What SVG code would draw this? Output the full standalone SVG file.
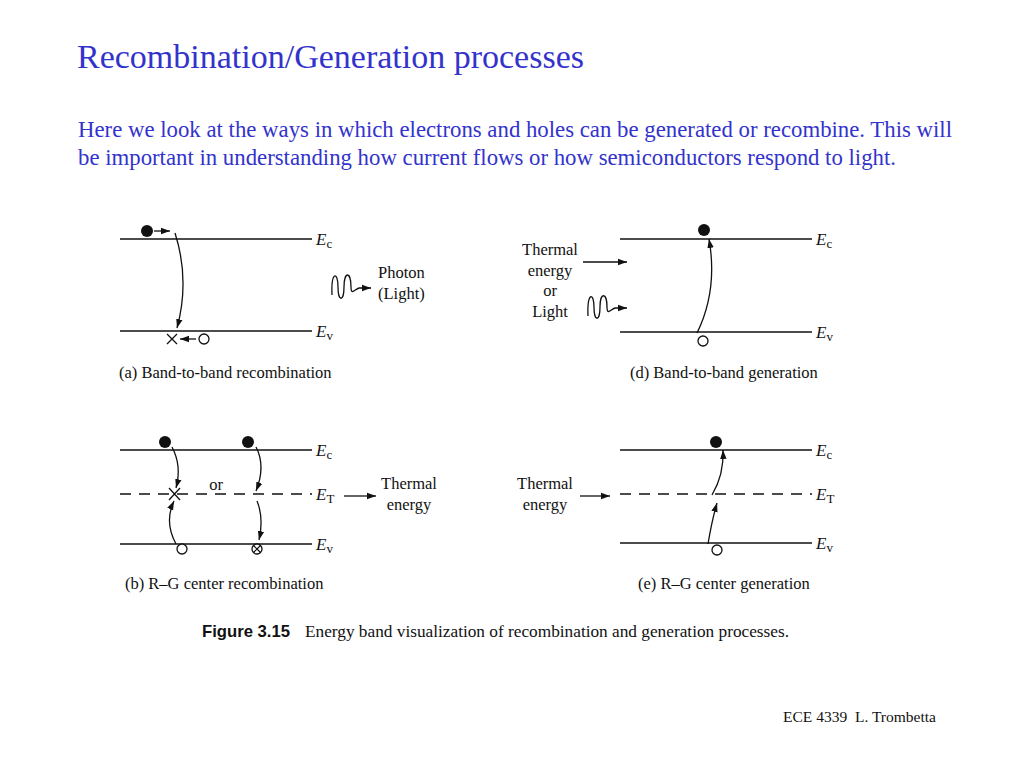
<svg xmlns="http://www.w3.org/2000/svg" width="1024" height="768" viewBox="0 0 1024 768">
<defs>
<marker id="ah" markerWidth="10" markerHeight="8" refX="9" refY="4" orient="auto" markerUnits="userSpaceOnUse">
<path d="M0,0.8 L9,4 L0,7.2 Z" fill="#111"/>
</marker>
<style>
.blue{fill:#3333cc;font-family:"Liberation Serif","Times New Roman",serif}
.t{fill:#111;font-family:"Liberation Serif","Times New Roman",serif;font-size:16.5px}
.lbl{fill:#111;font-family:"Liberation Serif","Times New Roman",serif;font-size:17px}
.it{font-style:italic}
.band{stroke:#111;stroke-width:1.3;fill:none}
.dash{stroke:#111;stroke-width:1.3;fill:none;stroke-dasharray:11,8}
.arr{stroke:#111;stroke-width:1.3;fill:none;marker-end:url(#ah)}
.e{fill:#111}
.h{fill:#fff;stroke:#111;stroke-width:1.3}
</style>
</defs>
<rect width="1024" height="768" fill="#fff"/>
<text class="blue" x="77" y="68" font-size="34" textLength="507" lengthAdjust="spacingAndGlyphs">Recombination/Generation processes</text>
<text class="blue" x="78" y="137" font-size="22.5" textLength="874" lengthAdjust="spacingAndGlyphs">Here we look at the ways in which electrons and holes can be generated or recombine. This will</text>
<text class="blue" x="78" y="165" font-size="22.5" textLength="818" lengthAdjust="spacingAndGlyphs">be important in understanding how current flows or how semiconductors respond to light.</text>

<g id="panel-a">
<line class="band" x1="120" y1="239" x2="312" y2="239"/>
<line class="band" x1="120" y1="331" x2="312" y2="331"/>
<text class="lbl" x="316" y="245"><tspan class="it">E</tspan><tspan font-size="13" dy="3">c</tspan></text>
<text class="lbl" x="316" y="337"><tspan class="it">E</tspan><tspan font-size="13" dy="3">v</tspan></text>
<circle class="e" cx="147" cy="231" r="6"/>
<line class="arr" x1="154" y1="231" x2="170" y2="231"/>
<path class="arr" d="M175,233 Q190,280 177,328"/>
<path d="M167,334 L177,344 M177,334 L167,344" stroke="#111" stroke-width="1.3"/>
<line class="arr" x1="196" y1="339" x2="180" y2="339"/>
<circle class="h" cx="204" cy="339" r="5"/>
<path class="arr" d="M332,295 C331,271 338,271 338,287 C338,302 344,302 344,287 C344,271 351,271 351,287 C351,296 355,289 359,288 L371,288"/>
<text class="t" x="378" y="278">Photon</text>
<text class="t" x="378" y="299">(Light)</text>
<text class="t" x="119" y="378">(a) Band-to-band recombination</text>
</g>

<g id="panel-d">
<line class="band" x1="620" y1="239" x2="812" y2="239"/>
<line class="band" x1="620" y1="332" x2="812" y2="332"/>
<text class="lbl" x="816" y="245"><tspan class="it">E</tspan><tspan font-size="13" dy="3">c</tspan></text>
<text class="lbl" x="816" y="338"><tspan class="it">E</tspan><tspan font-size="13" dy="3">v</tspan></text>
<circle class="e" cx="704" cy="230" r="6"/>
<path class="arr" d="M697,333 Q718,290 709,239"/>
<circle class="h" cx="703" cy="341" r="5"/>
<text class="t" x="550" y="255" text-anchor="middle">Thermal</text>
<text class="t" x="550" y="276" text-anchor="middle">energy</text>
<text class="t" x="550" y="296" text-anchor="middle">or</text>
<text class="t" x="550" y="317" text-anchor="middle">Light</text>
<line class="arr" x1="583" y1="262" x2="627" y2="262"/>
<path class="arr" d="M588,316 C587,292 594,292 594,307 C594,322 600,322 600,307 C600,292 607,292 607,307 C607,316 611,309 615,308 L627,308"/>
<text class="t" x="630" y="378">(d) Band-to-band generation</text>
</g>

<g id="panel-b">
<line class="band" x1="120" y1="450" x2="312" y2="450"/>
<line class="dash" x1="120" y1="494" x2="312" y2="494"/>
<line class="band" x1="120" y1="544" x2="312" y2="544"/>
<text class="lbl" x="316" y="456"><tspan class="it">E</tspan><tspan font-size="13" dy="3">c</tspan></text>
<text class="lbl" x="316" y="500"><tspan class="it">E</tspan><tspan font-size="13" dy="3">T</tspan></text>
<text class="lbl" x="316" y="550"><tspan class="it">E</tspan><tspan font-size="13" dy="3">v</tspan></text>
<circle class="e" cx="165" cy="442" r="6"/>
<circle class="e" cx="248" cy="442" r="6"/>
<path class="arr" d="M172,447 Q182,466 176,488"/>
<path d="M169,488 L180,500 M180,488 L169,500" stroke="#111" stroke-width="1.3"/>
<path class="arr" d="M176,544 Q164,522 174,501"/>
<circle class="h" cx="182" cy="549" r="5"/>
<text class="t" x="216" y="490" text-anchor="middle">or</text>
<path class="arr" d="M256,447 Q266,466 256,491"/>
<path class="arr" d="M257,501 Q264,518 259,540"/>
<circle class="h" cx="257" cy="549" r="5"/>
<path d="M253.5,545.5 L260.5,552.5 M260.5,545.5 L253.5,552.5" stroke="#111" stroke-width="1.2"/>
<line class="arr" x1="344" y1="496" x2="376" y2="496"/>
<text class="t" x="409" y="489" text-anchor="middle">Thermal</text>
<text class="t" x="409" y="510" text-anchor="middle">energy</text>
<text class="t" x="125" y="589">(b) R–G center recombination</text>
</g>

<g id="panel-e">
<line class="band" x1="620" y1="450" x2="812" y2="450"/>
<line class="dash" x1="620" y1="494" x2="812" y2="494"/>
<line class="band" x1="620" y1="543" x2="812" y2="543"/>
<text class="lbl" x="816" y="456"><tspan class="it">E</tspan><tspan font-size="13" dy="3">c</tspan></text>
<text class="lbl" x="816" y="500"><tspan class="it">E</tspan><tspan font-size="13" dy="3">T</tspan></text>
<text class="lbl" x="816" y="549"><tspan class="it">E</tspan><tspan font-size="13" dy="3">v</tspan></text>
<circle class="e" cx="716" cy="442" r="6"/>
<path class="arr" d="M712,495 Q724,475 723,450"/>
<path class="arr" d="M708,544 Q712,520 717,503"/>
<circle class="h" cx="717" cy="550" r="5"/>
<line class="arr" x1="580" y1="496" x2="610" y2="496"/>
<text class="t" x="545" y="489" text-anchor="middle">Thermal</text>
<text class="t" x="545" y="510" text-anchor="middle">energy</text>
<text class="t" x="638" y="589">(e) R–G center generation</text>
</g>

<g id="figure-caption">
<text x="202" y="637" font-family="Liberation Sans, Arial, sans-serif" font-weight="bold" font-size="16.5" fill="#111" textLength="88" lengthAdjust="spacingAndGlyphs">Figure 3.15</text>
<text x="305" y="637" font-family="Liberation Serif, Times New Roman, serif" font-size="17" fill="#111" textLength="484" lengthAdjust="spacingAndGlyphs">Energy band visualization of recombination and generation processes.</text>
</g>
<text x="783" y="722" font-family="Liberation Serif, Times New Roman, serif" font-size="14" fill="#111" xml:space="preserve" textLength="153" lengthAdjust="spacingAndGlyphs">ECE 4339  L. Trombetta</text>
</svg>
